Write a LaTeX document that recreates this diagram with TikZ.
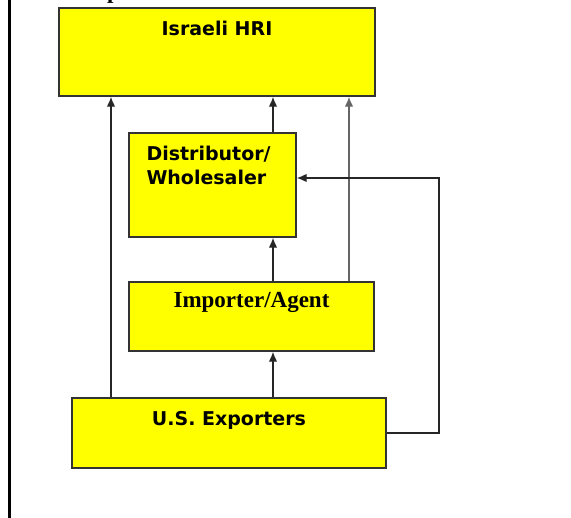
\documentclass[tikz,border=0pt]{standalone}
\usepackage{fontspec}
\setmainfont{Liberation Serif}
\newfontfamily\boxfont{DejaVu Sans}
\usetikzlibrary{arrows.meta}

\definecolor{chyellow}{RGB}{255,255,0}
\tikzset{
  chbox/.style={draw=black!80, line width=1.4pt, fill=chyellow, inner sep=0pt},
  chlbl/.style={inner sep=0pt, font=\boxfont\bfseries\fontsize{19}{24}\selectfont},
  chflow/.style={draw=black!85, line width=1.3pt, -{Latex[length=10pt,width=8.5pt]}}
}

\begin{document}
\begin{tikzpicture}[x=1pt,y=-1pt]
\useasboundingbox (0,0) rectangle (571,518);

% frame and cut heading
\draw[line width=2.4pt] (9.5,0) -- (9.5,518);
\node[anchor=base west, inner sep=0pt, font=\bfseries\fontsize{23}{26}\selectfont] (head) at (107,-1) {p};

% boxes
\node[chbox, minimum width=316pt, minimum height=88pt,
  label={[chlbl, anchor=north, yshift=-14pt]north:Israeli HRI}] (hri) at (217,52) {};
\node[chbox, minimum width=167pt, minimum height=104pt,
  label={[chlbl, anchor=north west, align=left, xshift=18pt, yshift=-14pt]north west:Distributor/\\Wholesaler}] (dist) at (212.5,185) {};
\node[chbox, minimum width=245pt, minimum height=69pt,
  label={[inner sep=0pt, anchor=north, yshift=-11pt, font=\bfseries\fontsize{23}{26}\selectfont]north:Importer/Agent}] (imp) at (251.5,316.5) {};
\node[chbox, minimum width=314pt, minimum height=70pt,
  label={[chlbl, anchor=north, yshift=-14pt]north:U.S. Exporters}] (exp) at (229,433) {};

% line positions
\coordinate (xa) at (111,0);
\coordinate (xb) at (273,0);
\coordinate (xc) at (349,0);
\coordinate (turn) at (439,178);

% connectors
\draw[chflow] (exp.north -| xa) -- (hri.south -| xa);
\draw[chflow] (dist.north -| xb) -- (hri.south -| xb);
\draw[chflow, draw=black!60] (imp.north -| xc) -- (hri.south -| xc);
\draw[chflow] (imp.north -| xb) -- (dist.south -| xb);
\draw[chflow] (exp.north -| xb) -- (imp.south -| xb);
\draw[chflow] (exp.east) -| (turn) -- (dist.east |- turn);
\end{tikzpicture}
\end{document}
